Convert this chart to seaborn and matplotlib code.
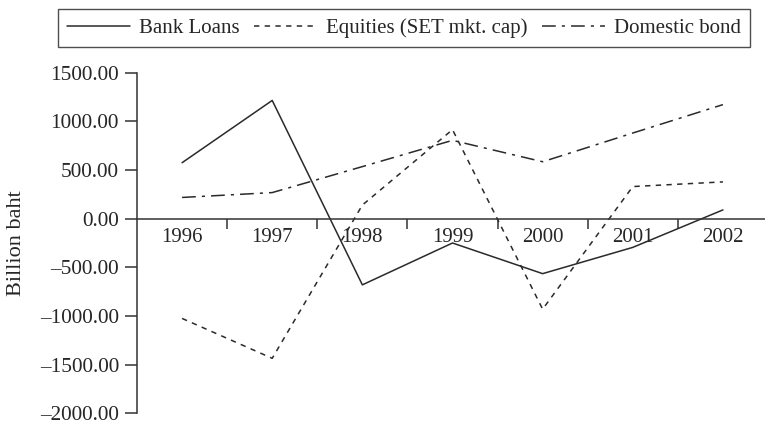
import numpy as np
import pandas as pd
import seaborn as sns
import matplotlib.pyplot as plt
from matplotlib.ticker import FuncFormatter, FixedLocator

years = [1996, 1997, 1998, 1999, 2000, 2001, 2002]
bank_loans = [575, 1215, -680, -250, -565, -295, 90]
equities = [-1025, -1435, 140, 915, -930, 330, 378]
domestic_bond = [218, 268, 535, 805, 585, 880, 1172]
series_names = ['Bank Loans', 'Equities (SET mkt. cap)', 'Domestic bond']

df = pd.DataFrame({
    'year': years * 3,
    'value': bank_loans + equities + domestic_bond,
    'series': np.repeat(series_names, len(years)),
})

sns.set_style('white')
plt.rcParams['font.family'] = ['Liberation Serif', 'DejaVu Serif']

fig = plt.figure(figsize=(7.65, 4.24), dpi=100)
ax = fig.add_axes([137 / 765, 1 - 413.3 / 424, 631 / 765, 340.6 / 424])

line_color = '#2a2a2a'
dashes = {
    'Bank Loans': '',
    'Equities (SET mkt. cap)': (3.5, 3.5),
    'Domestic bond': (9, 4, 2, 4),
}
sns.lineplot(data=df, x='year', y='value', hue='series', style='series',
             palette=[line_color] * 3, dashes=dashes, linewidth=1.1,
             legend=False, ax=ax)

ax.set_xlim(1995.5, 2002.5)
ax.set_ylim(-2000, 1500)
ax.set_yticks(np.arange(-2000, 1501, 500))
ax.yaxis.set_major_formatter(FuncFormatter(
    lambda v, p: f'{v:.2f}'.replace('-', '\u2013')))
ax.set_xlabel('')
ax.set_ylabel('')
fig.text(17 / 765, 1 - 243 / 424, 'Billion baht', rotation=90,
         fontsize=16, ha='center', va='center')

# x axis sits on zero, year labels centred, tick marks between years
ax.spines['bottom'].set_position(('data', 0))
ax.spines['top'].set_visible(False)
ax.spines['right'].set_visible(False)
for s in ['left', 'bottom']:
    ax.spines[s].set_color('#333333')
    ax.spines[s].set_linewidth(1.1)
ax.set_xticks(years)
ax.set_xticklabels([str(y) for y in years])
ax.xaxis.set_minor_locator(FixedLocator(np.arange(1996.5, 2002, 1.0)))
ax.tick_params(axis='x', which='major', length=0, pad=7, labelsize=15)
ax.tick_params(axis='x', which='minor', length=7, width=1.1,
               direction='out', color='#333333', bottom=True)
ax.tick_params(axis='y', length=9, width=1.1, direction='out',
               color='#333333', left=True, labelsize=15.3, pad=4)

handles = [plt.Line2D([], [], color=line_color, lw=1.1),
           plt.Line2D([], [], color=line_color, lw=1.1, dashes=(3.5, 3.5)),
           plt.Line2D([], [], color=line_color, lw=1.1, dashes=(9, 4, 2, 4))]
leg = fig.legend(handles, series_names, loc='upper center',
                 bbox_to_anchor=(404 / 765, 1 - 9 / 424), ncol=3,
                 fontsize=15, frameon=True, fancybox=False,
                 handlelength=3.0, columnspacing=0.7, handletextpad=0.45,
                 borderpad=0.45, borderaxespad=0)
leg.get_frame().set_edgecolor('#222222')
leg.get_frame().set_linewidth(1.0)

fig.savefig('out.png', dpi=100)
